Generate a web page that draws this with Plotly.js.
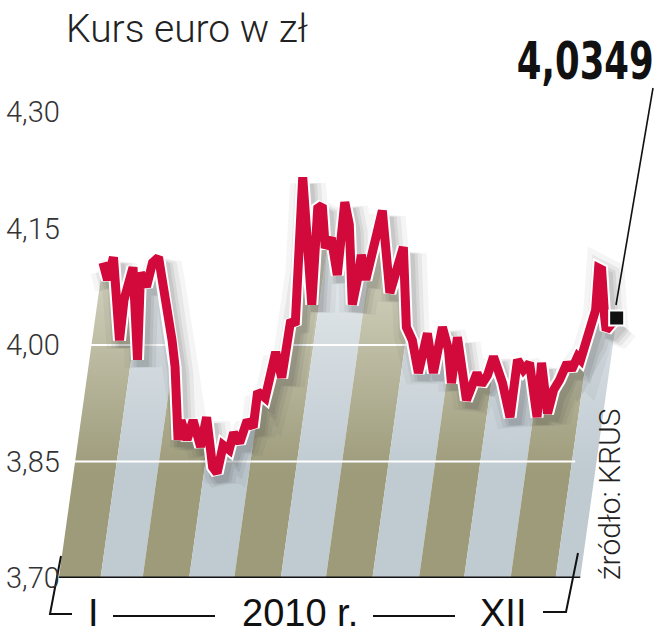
<!DOCTYPE html>
<html><head><meta charset="utf-8">
<script src="https://cdn.plot.ly/plotly-3.0.1.min.js"></script>
<style>html,body{margin:0;padding:0;background:#fff}#chart{width:657px;height:640px}</style>
</head><body><div id="chart"></div>
<script>
// ---- data ----
const dayOfYear = [4,7,11,13,15,18,24,27,29,33,37,41,44,47,50,52,54,56,60,64,69,73,77,80,84,88,91,95,100,104,107,112,115,119,123,129,132,134,137,140,143,147,150,152,156,160,165,168,170,174,176,179,183,186,190,195,199,204,206,210,214,218,220,224,227,230,234,236,240,243,246,250,253,256,260,264,267,270,275,278,280,284,288,293,296,300,304,308,313,316,320,322,325,328,332,334,336,338,339,346];
const eurPln = [4.106,4.084,4.113,4.062,4.006,4.058,4.100,3.981,4.093,4.075,4.106,4.113,4.080,4.041,4.006,3.972,3.878,3.903,3.878,3.903,3.869,3.907,3.843,3.835,3.871,3.865,3.887,3.874,3.903,3.894,3.940,3.932,3.955,3.991,3.958,4.032,4.026,4.103,4.216,4.135,4.052,4.176,4.180,4.125,4.138,4.090,4.184,4.155,4.052,4.090,4.116,4.084,4.113,4.135,4.173,4.067,4.097,4.126,4.023,4.006,3.964,4.000,4.015,3.964,3.994,4.023,3.994,3.951,4.010,3.968,3.929,3.949,3.964,3.949,3.961,3.985,3.968,3.951,3.907,3.955,3.981,3.968,3.977,3.907,3.977,3.912,3.942,3.955,3.977,3.968,3.985,3.981,4.000,4.010,4.045,4.099,4.097,4.036,4.019,4.0349];
const monthStarts = [1,32,60,91,121,152,182,213,244,274,305,335];
const yTickVals = [3.70,3.85,4.00,4.15,4.30];
const yTickText = ['3,70','3,85','4,00','4,15','4,30'];
const gridVals = [3.85,4.00];
const lastLabel = '4,0349';
const titleText = 'Kurs euro w zł';
const sourceText = 'źródło: KRUS';
const xLabels = ['I','2010 r.','XII'];

// ---- geometry / style ----
const W=657,H=640,M={l:40,r:0,t:112,b:62};
const PX0=52.5, PXD=1.502;
const xRange=[(M.l-PX0)/PXD,(W-M.r-PX0)/PXD];
const Y0=3.70, YT=4.30;
const SLANT=72.4;   // lean of the extruded band, days per unit of rate
const DEPTH=29.6;   // horizontal offset of the curve plane
const px2x=px=>(px-M.l)/(W-M.l-M.r);
const px2y=py=>(H-M.b-py)/(H-M.t-M.b);

const cx = dayOfYear.map(d=>d+DEPTH);
const n = eurPln.length;
const xLB = cx[0]-SLANT*(eurPln[0]-Y0);
const xRB = cx[n-1]-SLANT*(eurPln[n-1]-Y0);

const traces=[];
const olive={lo:'#9d9b7a',hi:'#dcdccc'};
const blue ={lo:'#bfcad1',hi:'#e9edef'};
monthStarts.forEach((a,i)=>{
  const b = i<monthStarts.length-1 ? monthStarts[i+1] : a+60;
  const lean = SLANT*(YT+0.1-Y0);
  const c = i%2===0?olive:blue;
  traces.push({type:'scatter',mode:'lines',x:[a,b,b+lean,a+lean,a],y:[Y0,Y0,YT+0.1,YT+0.1,Y0],
    fill:'toself',line:{width:0},fillcolor:c.lo,
    fillgradient:{type:'vertical',colorscale:[[0,c.lo],[0.3,c.lo],[1,c.hi]],start:Y0,stop:4.15},
    hoverinfo:'skip',showlegend:false});
});
gridVals.forEach(g=>traces.push({type:'scatter',mode:'lines',x:[xRange[0],348],y:[g,g],
  line:{color:'#ffffff',width:2},hoverinfo:'skip',showlegend:false}));
// white mask above the curve and outside the band
const BIG=1000;
traces.push({type:'scatter',mode:'lines',
  x:[xLB,...cx,xRB,BIG,BIG,-BIG,-BIG,xLB],
  y:[Y0,...eurPln,Y0,Y0,5,5,Y0,Y0],
  fill:'toself',fillcolor:'#ffffff',line:{width:0},hoverinfo:'skip',showlegend:false});
// soft shadow
[[36,0.05],[26,0.07],[18,0.09],[12,0.1]].forEach(([w,a])=>traces.push({type:'scatter',mode:'lines',
  x:cx.map(v=>v+3.5),y:eurPln.map(v=>v-0.009),line:{color:`rgba(60,60,60,${a})`,width:w},
  hoverinfo:'skip',showlegend:false}));
traces.push({type:'scatter',mode:'lines',x:cx,y:eurPln,line:{color:'#ffffff',width:13},hoverinfo:'skip',showlegend:false});
traces.push({type:'scatter',mode:'lines',x:cx,y:eurPln,line:{color:'#d20a3c',width:9},hoverinfo:'skip',showlegend:false});
traces.push({type:'scatter',mode:'markers',x:[cx[n-1]],y:[eurPln[n-1]],
  marker:{symbol:'square',size:15,color:'#111',line:{color:'#fff',width:2}},hoverinfo:'skip',showlegend:false});

const ann=[];
yTickVals.forEach((v,i)=>ann.push({xref:'paper',yref:'y',x:px2x(62),y:v,xanchor:'right',yanchor:'middle',
  text:yTickText[i],showarrow:false,font:{family:'Roboto, sans-serif',weight:300,size:29,color:'#333'}}));
ann.push({xref:'paper',yref:'paper',x:px2x(64),y:px2y(29),xanchor:'left',yanchor:'middle',text:titleText,showarrow:false,
  font:{family:'Roboto, sans-serif',weight:300,size:39,color:'#222'}});
ann.push({xref:'paper',yref:'paper',x:px2x(585),y:px2y(61),xanchor:'center',yanchor:'middle',text:lastLabel,showarrow:false,
  font:{family:'DejaVu Sans Condensed, DejaVu Sans, sans-serif',weight:700,size:52,color:'#111'}});
ann.push({xref:'paper',yref:'paper',x:px2x(609),y:px2y(494),xanchor:'center',yanchor:'middle',text:sourceText,textangle:-90,showarrow:false,
  font:{family:'Roboto, sans-serif',weight:300,size:30,color:'#222'}});
const xlPos=[93,300,503];
xLabels.forEach((t,i)=>ann.push({xref:'paper',yref:'paper',x:px2x(xlPos[i]),y:px2y(613),xanchor:'center',yanchor:'middle',text:t,showarrow:false,
  font:{family:'Liberation Sans, Arial, sans-serif',size:38,color:'#111'}}));

const P=(px,py)=>`${px2x(px)},${px2y(py)}`;
const shapes=[
  {type:'line',xref:'x',yref:'y',x0:xLB,x1:xRB,y0:Y0,y1:Y0,line:{color:'#111',width:3}},
  {type:'path',xref:'paper',yref:'paper',path:`M${P(61,556)}L${P(50,614)}L${P(72,614)}`,line:{color:'#111',width:2}},
  {type:'line',xref:'paper',yref:'paper',x0:px2x(113),x1:px2x(215),y0:px2y(616),y1:px2y(616),line:{color:'#111',width:2}},
  {type:'line',xref:'paper',yref:'paper',x0:px2x(373),x1:px2x(455),y0:px2y(616),y1:px2y(616),line:{color:'#111',width:2}},
  {type:'path',xref:'paper',yref:'paper',path:`M${P(543,612)}L${P(566,612)}L${P(578,553)}`,line:{color:'#111',width:2}},
  {type:'line',xref:'paper',yref:'paper',x0:px2x(616),y0:px2y(305),x1:px2x(653),y1:px2y(88),line:{color:'#111',width:1.6}}
];

const layout={width:W,height:H,margin:M,paper_bgcolor:'#fff',plot_bgcolor:'#fff',showlegend:false,
  xaxis:{range:xRange,visible:false,fixedrange:true},
  yaxis:{range:[Y0,YT],visible:false,fixedrange:true},
  annotations:ann,shapes:shapes};
Plotly.newPlot('chart',traces,layout,{staticPlot:true,displayModeBar:false}).then(gd=>{
  // condense the big value label horizontally (narrow display face)
  gd.querySelectorAll('.annotation').forEach(g=>{
    const t=g.querySelector('.annotation-text');
    if(!t||t.textContent!==lastLabel) return;
    const bb=t.getBBox(), sx=137/bb.width, c=bb.x+bb.width/2;
    const prev=t.getAttribute('transform')||'';
    t.setAttribute('transform',`${prev} translate(${c*(1-sx)},0) scale(${sx},1)`);
    const bg=g.querySelector('.bg');
    if(bg){const w=+bg.getAttribute('width');const x=+bg.getAttribute('x')||0;
      bg.setAttribute('x',x+w*(1-sx)/2);bg.setAttribute('width',w*sx);}
  });
});
</script></body></html>
